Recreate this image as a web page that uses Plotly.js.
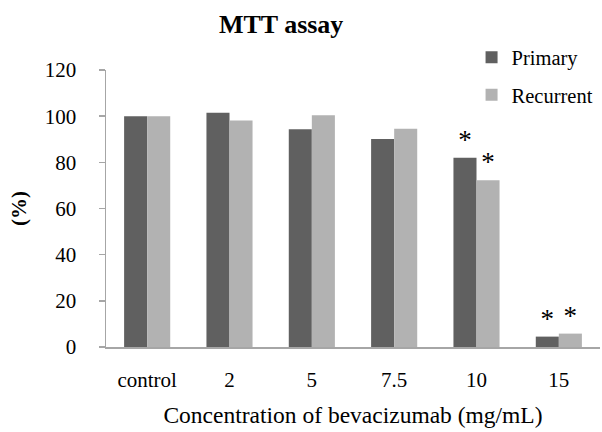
<!DOCTYPE html>
<html>
<head>
<meta charset="utf-8">
<script src="https://cdn.plot.ly/plotly-3.0.1.min.js"></script>
<style>html,body{margin:0;padding:0;background:#fff;}#chart{width:602px;height:432px;}</style>
</head>
<body>
<div id="chart"></div>
<script>
const categories = ["control", "2", "5", "7.5", "10", "15"];
const primary = [100, 101.5, 94.3, 90.1, 82, 4.5];
const recurrent = [100, 98.1, 100.4, 94.5, 72.2, 5.8];
const primarySig = ["", "", "", "", "*", "*"];
const recurrentSig = ["", "", "", "", "*", "*"];
const yTicks = [0, 20, 40, 60, 80, 100, 120];

const serif = "'Liberation Serif', 'Times New Roman', serif";

const traces = [
  {
    type: "bar", name: "Primary", x: categories, y: primary,
    text: primarySig, textposition: "outside", cliponaxis: false,
    textfont: {family: serif, size: 27, color: "#000"},
    marker: {color: "#606060"}, legendgroup: "a", hoverinfo: "none"
  },
  {
    type: "bar", name: "Recurrent", x: categories, y: recurrent,
    text: recurrentSig, textposition: "outside", cliponaxis: false,
    textfont: {family: serif, size: 27, color: "#000"},
    marker: {color: "#b2b2b2"}, legendgroup: "b", hoverinfo: "none"
  }
];

const layout = {
  width: 602, height: 432,
  margin: {l: 105.5, r: 2, t: 70, b: 85, autoexpand: false},
  paper_bgcolor: "#fff", plot_bgcolor: "#fff",
  font: {family: serif, size: 21, color: "#000"},
  title: {text: "<b>MTT assay</b>", x: 0.467, xanchor: "center", xref: "container",
          y: 0.945, yanchor: "middle", yref: "container",
          font: {family: serif, size: 26, color: "#000"}},
  barmode: "group", bargap: 0.44, bargroupgap: 0,
  showlegend: true,
  legend: {x: 0.74, xanchor: "left", y: 1.118, yanchor: "top",
           font: {family: serif, size: 20.5, color: "#000"},
           traceorder: "grouped", tracegroupgap: 8, bgcolor: "rgba(0,0,0,0)"},
  xaxis: {
    type: "category", showgrid: false, zeroline: false,
    showline: true, linecolor: "#a6a6a6", linewidth: 1.5,
    ticks: "outside", ticklen: 13, tickcolor: "rgba(0,0,0,0)",
    tickfont: {family: serif, size: 21},
    title: {text: "Concentration of bevacizumab (mg/mL)", standoff: 16,
            font: {family: serif, size: 23.5}}
  },
  yaxis: {
    range: [0, 120], tickvals: yTicks, showgrid: false, zeroline: false,
    showline: true, linecolor: "#a6a6a6", linewidth: 1.5,
    ticks: "outside", ticklen: 6, tickcolor: "#a6a6a6", tickwidth: 1.5,
    ticklabelstandoff: 18,
    tickfont: {family: serif, size: 21},
    title: {text: "<b>(%)</b>", standoff: 12, font: {family: serif, size: 21}}
  }
};

Plotly.newPlot("chart", traces, layout, {displayModeBar: false, staticPlot: true});
</script>
</body>
</html>
